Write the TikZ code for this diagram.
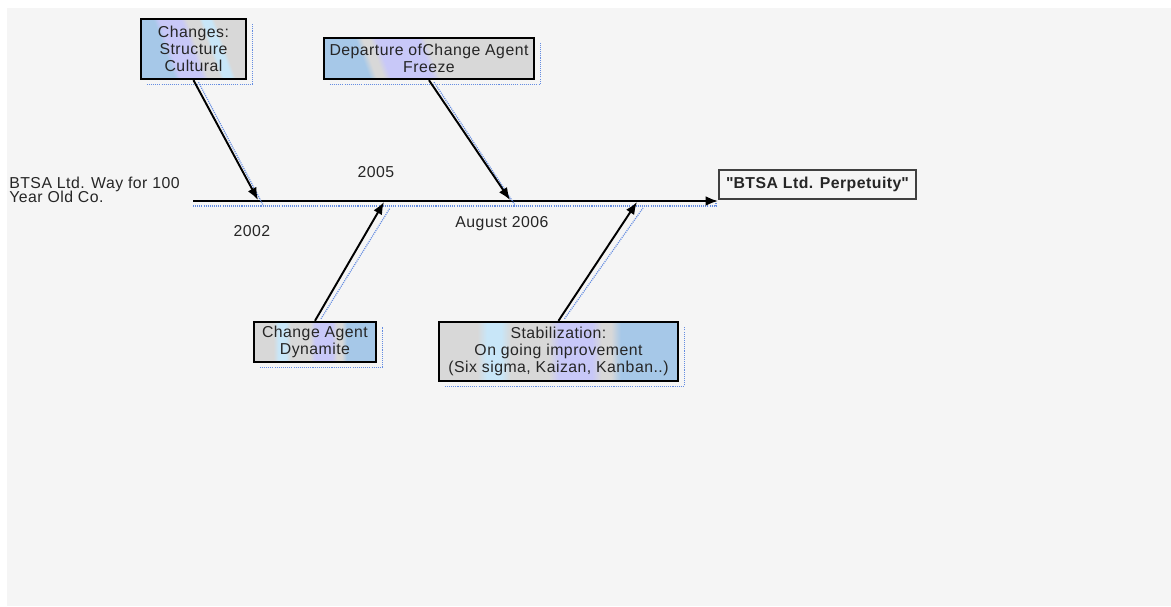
\documentclass[tikz,border=0pt]{standalone}
\usepackage{fontspec}
\setmainfont[LetterSpace=3]{Liberation Sans}
\usetikzlibrary{arrows.meta, calc}
\usepackage{xcolor}

\definecolor{bgray}{RGB}{245,245,245}
\definecolor{bandblue}{RGB}{166,200,232}
\definecolor{bandlav}{RGB}{200,200,248}
\definecolor{bandgray}{RGB}{216,216,216}
\definecolor{bandcyan}{RGB}{200,230,248}
\definecolor{shadowblue}{RGB}{100,140,225}

\newcommand\tightlines{\lineskiplimit=-8pt\relax}

% band fills of the boxes
\pgfdeclarehorizontalshading{bandsleft}{100bp}{color(0bp)=(bandblue); color(35bp)=(bandblue);
  color(38bp)=(bandlav); color(49bp)=(bandlav); color(52bp)=(bandgray); color(58bp)=(bandgray);
  color(60bp)=(bandcyan); color(64bp)=(bandcyan); color(66bp)=(bandgray); color(100bp)=(bandgray)}
\pgfdeclarehorizontalshading{bandsdep}{100bp}{color(0bp)=(bandblue); color(31bp)=(bandblue);
  color(33bp)=(bandgray); color(35bp)=(bandgray); color(37bp)=(bandlav); color(49bp)=(bandlav);
  color(51bp)=(bandgray); color(100bp)=(bandgray)}
\pgfdeclarehorizontalshading{bandsright}{100bp}{color(0bp)=(bandgray); color(33bp)=(bandgray);
  color(35bp)=(bandcyan); color(38bp)=(bandcyan); color(40bp)=(bandgray); color(48bp)=(bandgray);
  color(50bp)=(bandlav); color(57bp)=(bandlav); color(59bp)=(bandgray); color(61bp)=(bandgray);
  color(63bp)=(bandblue); color(100bp)=(bandblue)}

\begin{document}
\begin{tikzpicture}[>=Latex, x=0.02cm, y=-0.02cm,
  every node/.style={font=\fontsize{9}{9.5}\selectfont, text=black!85},
  causebox/.style={draw, line width=1.4pt, align=center, inner sep=1pt},
  shadowline/.style={shadowblue, line width=0.7pt, dash pattern=on 0.6pt off 0.6pt},
  boneline/.style={line width=1.1pt, -{Latex[length=7pt,width=5.5pt]}}]

  % canvas
  \useasboundingbox (0,0) rectangle (1171,607);
  \fill[bgray] (7,8) rectangle (1171,606);

  % spine
  \coordinate (spinestart) at (193,201);
  \coordinate (spineend) at (718,201);
  \draw[shadowline] ($(spinestart)+(0,5)$) -- ($(spineend)+(-2,5)$) -- ++(0,-4);
  \draw[boneline] (spinestart) -- (spineend);

  \node[anchor=west, align=left, font={\fontsize{9}{7.6}\selectfont\tightlines},
    inner sep=0pt] (start) at (9,190) {BTSA Ltd. Way for 100\\Year Old Co.};
  \node[draw=black!75, line width=0.9pt, minimum width=3.94cm, minimum height=0.58cm,
    font=\fontsize{9}{9.5}\selectfont\bfseries, inner sep=1pt] (goal) at (817.5,184.5)
    {\textquotedbl BTSA Ltd. Perpetuity\textquotedbl};

  % boxes above the spine
  \node[causebox, shading=bandsleft, shading angle=20, minimum width=2.1cm, minimum height=1.2cm]
    (changes) at (193.5,49) {Changes:\\Structure\\Cultural};
  \node[causebox, shading=bandsdep, shading angle=20, minimum width=4.2cm, minimum height=0.82cm]
    (departure) at (429,58.5) {Departure ofChange Agent\\Freeze};

  % boxes below the spine
  \node[causebox, shading=bandsright, minimum width=2.44cm, minimum height=0.8cm]
    (agent) at (315,342) {Change Agent\\Dynamite};
  \node[causebox, shading=bandsright, minimum width=4.78cm, minimum height=1.18cm]
    (stable) at (558.5,351.5) {Stabilization:\\On going improvement\\(Six sigma, Kaizan, Kanban..)};

  % box shadows
  \foreach \b in {changes, departure, agent, stable}
    \draw[shadowline] ($(\b.south west)+(7,4)$) -| ($(\b.north east)+(5,6)$);

  % bones
  \coordinate (hit2002) at (258,200);
  \coordinate (hit2005) at (384,202);
  \coordinate (hit2006) at (510,200);
  \coordinate (hitstable) at (637,202);

  \draw[shadowline] ($(changes.south)+(5,2)$) -- ($(hit2002)+(5,5)$);
  \draw[shadowline] ($(departure.south)+(5,2)$) -- ($(hit2006)+(5,5)$);
  \draw[shadowline] ($(agent.north)+(6,-2)$) -- ($(hit2005)+(6,6)$);
  \draw[shadowline] ($(stable.north)+(6,-2)$) -- ($(hitstable)+(6,6)$);

  \draw[boneline] (changes.south) -- (hit2002);
  \draw[boneline] (departure.south) -- (hit2006);
  \draw[boneline] (agent.north) -- (hit2005);
  \draw[boneline] (stable.north) -- (hitstable);

  % dates
  \node (y2005) at (376,172) {2005};
  \node (y2002) at (252,231) {2002};
  \node (y2006) at (502,224) {August 2006};

\end{tikzpicture}
\end{document}
